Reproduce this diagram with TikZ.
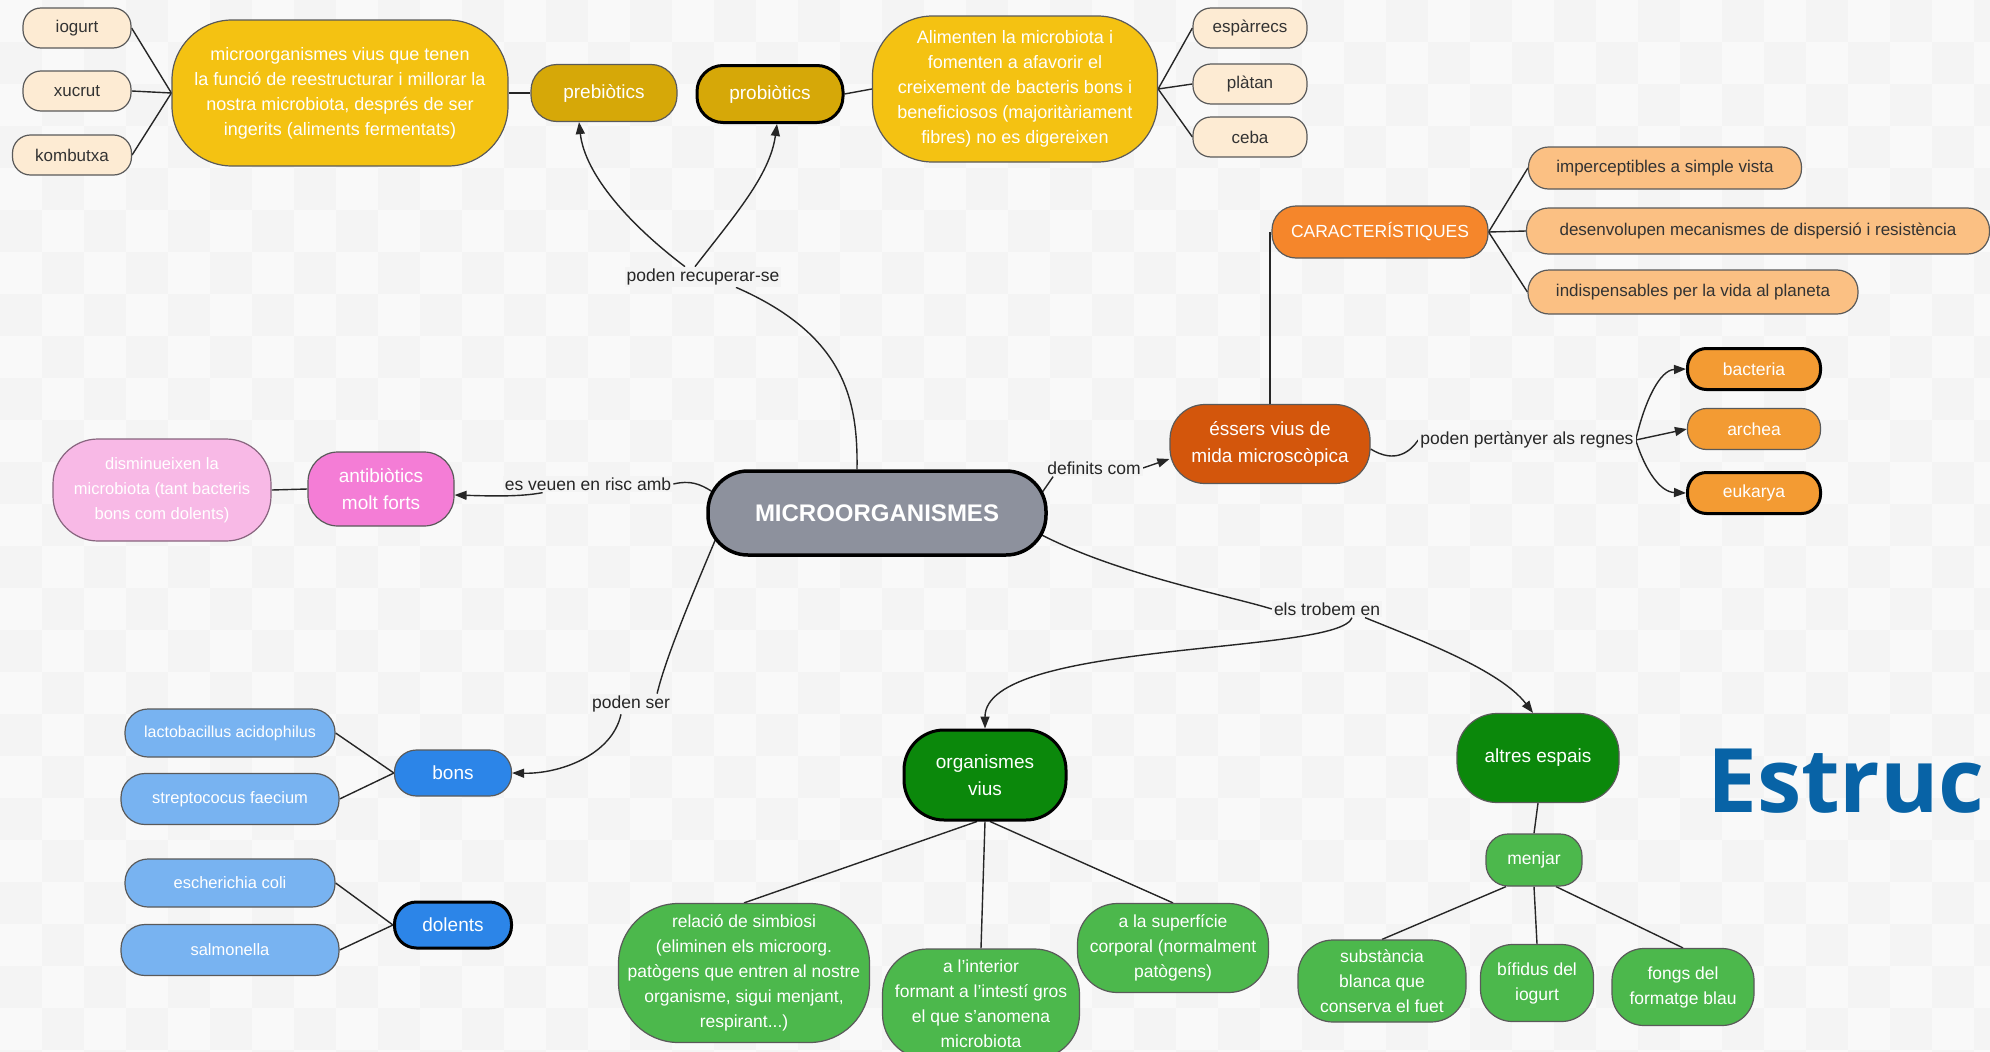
\documentclass[tikz,border=0pt]{standalone}
\usepackage{fontspec}
\setmainfont{Liberation Sans}
\newfontfamily\estrucf{Open Sans}
\usetikzlibrary{arrows.meta,calc}
\pgfdeclarelayer{bgl}\pgfdeclarelayer{lines}\pgfsetlayers{bgl,lines,main}
\definecolor{bgc}{HTML}{F4F4F4}
\definecolor{bgl}{HTML}{F9F9F9}
\definecolor{cream}{HTML}{FDEBD3}
\definecolor{gold}{HTML}{F4C212}
\definecolor{dgold}{HTML}{D6A808}
\definecolor{orgA}{HTML}{F5862B}
\definecolor{orgL}{HTML}{FBC083}
\definecolor{orgD}{HTML}{D3560C}
\definecolor{orgR}{HTML}{F39B33}
\definecolor{grayB}{HTML}{8D919D}
\definecolor{pinkA}{HTML}{F47DD6}
\definecolor{pinkL}{HTML}{F8B9E6}
\definecolor{blueA}{HTML}{2C85E8}
\definecolor{blueL}{HTML}{78B3F1}
\definecolor{greenD}{HTML}{0B880B}
\definecolor{greenL}{HTML}{4CB84C}
\definecolor{bord}{HTML}{5A5A5A}
\definecolor{estc}{HTML}{0863A6}
\tikzset{
  box/.style n args={4}{minimum width=#1pt, minimum height=#2pt, rounded corners=#3pt,
    fill=#4, draw=bord, line width=1.2pt, align=center, inner sep=2pt, text=white,
    font=\fontsize{17.5}{25}\selectfont},
  heavy/.style={draw=black, line width=3pt},
  big/.style={font=\fontsize{19}{27}\selectfont},
  dk/.style={text=black!80, font=\fontsize{17}{20}\selectfont},
  lbl/.style={fill=bgc, inner sep=2pt, text=black!85, font=\fontsize{17.5}{20}\selectfont},
  ln/.style={draw=black!85, line width=1.4pt},
  arr/.style={ln, -{Triangle[length=12pt,width=9pt]}}
}
\begin{document}
\begin{tikzpicture}[x=1pt,y=-1pt]
\useasboundingbox (0,0) rectangle (1990,1052);
\begin{pgfonlayer}{bgl}
\begin{scope}
\clip (0,0) rectangle (1990,1052);
\fill[bgc] (0,0) rectangle (1990,1052);
\foreach \i in {0,...,47} \foreach \j in {0,...,25} {
  \pgfmathparse{int(mod(\i+\j,2))}
  \ifnum\pgfmathresult=0 \fill[bgl] (\i*42,\j*42) rectangle ++(42,42); \fi
}
\end{scope}
\end{pgfonlayer}

% top row
\node[box={108}{40}{18}{cream}, dk] (iog) at (77,28) {iogurt};
\node[box={108}{40}{18}{cream}, dk] (xuc) at (77,91) {xucrut};
\node[box={119}{40}{18}{cream}, dk] (kom) at (72,155) {kombutxa};
\node[box={336}{146}{60}{gold}, font=\fontsize{18}{25}\selectfont] (yl) at (340,93) {microorganismes vius que tenen\\la funció de reestructurar i millorar la\\nostra microbiota, després de ser\\ingerits (aliments fermentats)};
\node[box={146}{57}{26}{dgold}, big] (preb) at (604,93) {prebiòtics};
\node[box={146}{57}{26}{dgold}, heavy, big] (prob) at (770,94) {probiòtics};
\node[box={285}{146}{60}{gold}, font=\fontsize{18}{25}\selectfont] (yr) at (1015,89) {Alimenten la microbiota i\\fomenten a afavorir el\\creixement de bacteris bons i\\beneficiosos (majoritàriament\\fibres) no es digereixen};
\node[box={114}{40}{18}{cream}, dk] (esp) at (1250,28) {espàrrecs};
\node[box={114}{40}{18}{cream}, dk] (pla) at (1250,84) {plàtan};
\node[box={114}{40}{18}{cream}, dk] (ceb) at (1250,137) {ceba};

% characteristics
\node[box={216}{52}{24}{orgA}] (car) at (1380,232) {CARACTERÍSTIQUES};
\node[box={273}{42}{20}{orgL}, dk] (imp) at (1665,168) {imperceptibles a simple vista};
\node[box={463}{46}{22}{orgL}, dk] (des) at (1758,231) {desenvolupen mecanismes de dispersió i resistència};
\node[box={330}{44}{21}{orgL}, dk] (ind) at (1693,292) {indispensables per la vida al planeta};
\node[box={200}{79}{35}{orgD}, big] (ess) at (1270,444) {éssers vius de\\mida microscòpica};
\node[box={133}{41}{19}{orgR}, heavy] (bac) at (1754,369) {bacteria};
\node[box={133}{41}{19}{orgR}] (arc) at (1754,429) {archea};
\node[box={133}{41}{19}{orgR}, heavy] (euk) at (1754,493) {eukarya};

% centre
\node[box={338}{84}{40}{grayB}, draw=black, line width=3.5pt, font=\bfseries\fontsize{24}{28}\selectfont] (micro) at (877,513) {MICROORGANISMES};

% pink
\node[box={146}{74}{30}{pinkA}, big] (ant) at (381,489) {antibiòtics\\molt forts};
\node[box={218}{102}{45}{pinkL}, draw=bord!70!pinkA, font=\fontsize{16.5}{25}\selectfont] (dis) at (162,490) {disminueixen la\\microbiota (tant bacteris\\bons com dolents)};

% blue
\node[box={117}{46}{22}{blueA}, big] (bons) at (453,773) {bons};
\node[box={117}{46}{22}{blueA}, heavy, big] (dol) at (453,925) {dolents};
\node[box={210}{48}{23}{blueL}, font=\fontsize{16}{19}\selectfont] (lac) at (230,733) {lactobacillus acidophilus};
\node[box={218}{51}{24}{blueL}, font=\fontsize{16.5}{19}\selectfont] (str) at (230,799) {streptococus faecium};
\node[box={210}{48}{23}{blueL}, font=\fontsize{16.5}{19}\selectfont] (esc) at (230,883) {escherichia coli};
\node[box={218}{51}{24}{blueL}, font=\fontsize{16.5}{19}\selectfont] (sal) at (230,950) {salmonella};

% green
\node[box={162}{90}{40}{greenD}, heavy, big] (org) at (985,775) {organismes\\vius};
\node[box={162}{89}{40}{greenD}, big] (alt) at (1538,758) {altres espais};
\node[box={251}{139}{60}{greenL}] (rel) at (744,973) {relació de simbiosi\\(eliminen els microorg.\\patògens que entren al nostre\\organisme, sigui menjant,\\respirant...)};
\node[box={197}{110}{45}{greenL}] (int) at (981,1004) {a l'interior\\formant a l'intestí gros\\el que s'anomena\\microbiota};
\node[box={191}{89}{40}{greenL}] (sup) at (1173,948) {a la superfície\\corporal (normalment\\patògens)};
\node[box={96}{52}{22}{greenL}] (men) at (1534,860) {menjar};
\node[box={168}{82}{35}{greenL}] (sub) at (1382,981) {substància\\blanca que\\conserva el fuet};
\node[box={113}{77}{32}{greenL}] (bif) at (1537,983) {bífidus del\\iogurt};
\node[box={142}{77}{32}{greenL}] (fon) at (1683,987) {fongs del\\formatge blau};

% labels
\node[lbl] (rec) at (703,277) {poden recuperar-se};
\node[lbl] (vr) at (588,484) {es veuen en risc amb};
\node[lbl] (dc) at (1094,468) {definits com};
\node[lbl] (reg) at (1527,440) {poden pertànyer als regnes};
\node[lbl] (ps) at (631,704) {poden ser};
\node[lbl] (et) at (1327,609) {els trobem en};

% title fragment
\node[anchor=base west, inner sep=0pt, text=estc, font=\estrucf\bfseries\fontsize{89}{110}\selectfont] (est) at (1707,812) {Estruc};

\begin{pgfonlayer}{lines}
\foreach \n in {iog,xuc,kom} \draw[ln] (\n.east) -- (yl.west);
\draw[ln] (yl.east) -- (preb.west);
\draw[ln] (prob.east) -- (yr.west);
\foreach \n in {esp,pla,ceb} \draw[ln] (yr.east) -- (\n.west);

\draw[ln] ([xshift=-20pt]micro.north) .. controls (858,400) and (845,335) .. ([xshift=33pt]rec.south);
\draw[arr] ([xshift=-18pt]rec.north) .. controls (630,225) and (585,175) .. ([xshift=-25pt]preb.south);
\draw[arr] ([xshift=-8pt]rec.north) .. controls (735,215) and (770,175) .. ([xshift=7pt]prob.south);

\draw[ln] (vr.east) .. controls (690,480) and (700,484) .. ([shift={(5pt,22pt)}]micro.west);
\draw[arr] ([xshift=40pt]vr.south west) .. controls (520,497) and (490,496) .. ([yshift=-6pt]ant.east);
\draw[ln] (ant.west) -- (dis.east);

\draw[ln] ([shift={(-6pt,20pt)}]micro.east) -- ([xshift=8pt]dc.south west);
\draw[arr] (dc.east) -- ([yshift=-15pt]ess.west);
\draw[ln] (ess.north) -- (ess.north |- car.west);
\foreach \n in {imp,des,ind} \draw[ln] (car.east) -- (\n.west);

\draw[ln] ([yshift=-5pt]ess.east) .. controls (1395,464) and (1410,452) .. (reg.west);
\draw[arr] (reg.east) .. controls (1645,400) and (1660,370) .. (bac.west);
\draw[arr] (reg.east) -- (arc.west);
\draw[arr] (reg.east) .. controls (1645,470) and (1660,492) .. (euk.west);

\draw[ln] ([shift={(9pt,-27pt)}]micro.west) .. controls (690,600) and (665,660) .. ([xshift=-15pt]ps.north east);
\draw[arr] ([xshift=-10pt]ps.south) .. controls (612,755) and (560,774) .. (bons.east);
\foreach \n in {lac,str} \draw[ln] (bons.west) -- (\n.east);
\foreach \n in {esc,sal} \draw[ln] (dol.west) -- (\n.east);

\draw[ln] ([shift={(-6pt,-22pt)}]micro.east) .. controls (1120,575) and (1230,596) .. (et.west);
\draw[arr] ([xshift=25pt]et.south) .. controls (1340,655) and (985,640) .. (org.north);
\draw[arr] ([xshift=38pt]et.south) .. controls (1420,640) and (1500,670) .. ([xshift=-5pt]alt.north);

\draw[ln] ([xshift=-8pt]org.south) -- (rel.north);
\draw[ln] (org.south) -- (int.north);
\draw[ln] ([xshift=5pt]org.south) -- (sup.north);
\draw[ln] (alt.south) -- (men.north);
\draw[ln] ([xshift=-28pt]men.south) -- (sub.north);
\draw[ln] (men.south) -- (bif.north);
\draw[ln] ([xshift=22pt]men.south) -- (fon.north);
\end{pgfonlayer}
\end{tikzpicture}
\end{document}
